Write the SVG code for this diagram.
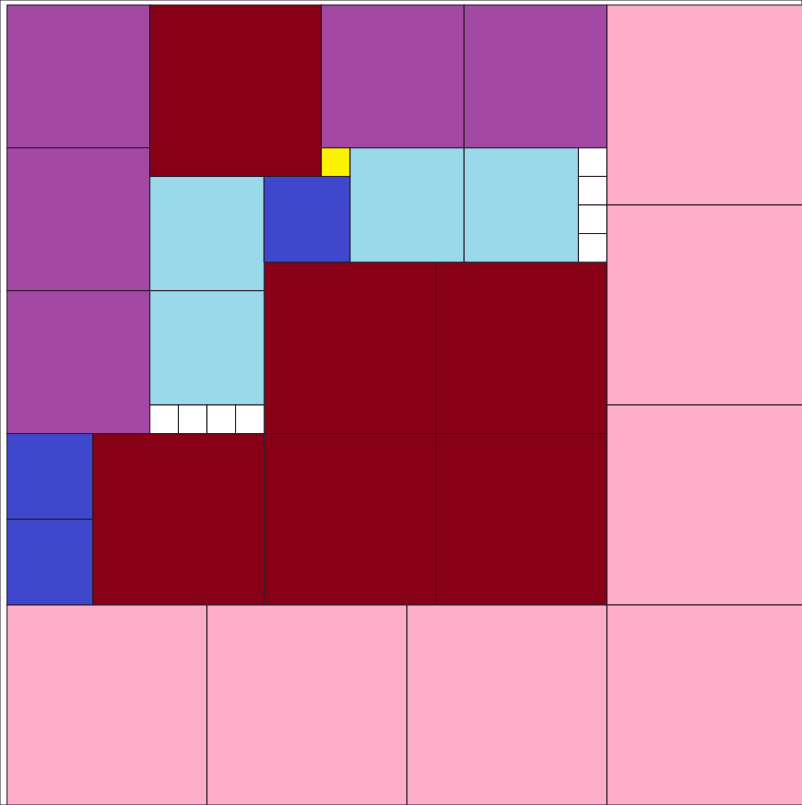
<svg xmlns="http://www.w3.org/2000/svg" width="802" height="805" viewBox="0 0 802 805">
<style>
rect{stroke:#2a1a2a;stroke-width:1}
.pu{fill:#A349A4}.dr{fill:#880015}.lb{fill:#99D9EA}.bl{fill:#3F48CC}.ye{fill:#FFF200}.pk{fill:#FFAEC9}.wh{fill:#FFFFFF}
</style>
<rect x="0" y="0" width="802" height="805" fill="#fff" stroke="none"/>
<g id="purple">
<rect id="p1" class="pu" x="7" y="5" width="142.86" height="142.86"/>
<rect id="p2" class="pu" x="7" y="147.86" width="142.86" height="142.86"/>
<rect id="p3" class="pu" x="7" y="290.71" width="142.86" height="142.86"/>
<rect id="p4" class="pu" x="321.29" y="5" width="142.86" height="142.86"/>
<rect id="p5" class="pu" x="464.14" y="5" width="142.86" height="142.86"/>
</g>
<g id="darkred">
<rect id="r1" class="dr" x="149.86" y="5" width="171.43" height="171.43"/>
<rect id="r2" class="dr" x="264.14" y="262.14" width="171.43" height="171.43"/>
<rect id="r3" class="dr" x="435.57" y="262.14" width="171.43" height="171.43"/>
<rect id="r4" class="dr" x="92.71" y="433.57" width="171.43" height="171.43"/>
<rect id="r5" class="dr" x="264.14" y="433.57" width="171.43" height="171.43"/>
<rect id="r6" class="dr" x="435.57" y="433.57" width="171.43" height="171.43"/>
</g>
<g id="lightblue">
<rect id="l1" class="lb" x="349.86" y="147.86" width="114.29" height="114.29"/>
<rect id="l2" class="lb" x="464.14" y="147.86" width="114.29" height="114.29"/>
<rect id="l3" class="lb" x="149.86" y="176.43" width="114.29" height="114.29"/>
<rect id="l4" class="lb" x="149.86" y="290.71" width="114.29" height="114.29"/>
</g>
<g id="blue">
<rect id="b1" class="bl" x="264.14" y="176.43" width="85.71" height="85.71"/>
<rect id="b2" class="bl" x="7" y="433.57" width="85.71" height="85.71"/>
<rect id="b3" class="bl" x="7" y="519.29" width="85.71" height="85.71"/>
</g>
<g id="yellow">
<rect id="y1" class="ye" x="321.29" y="147.86" width="28.57" height="28.57"/>
</g>
<g id="white">
<rect id="w1" class="wh" x="578.43" y="147.86" width="28.57" height="28.57"/>
<rect id="w2" class="wh" x="578.43" y="176.43" width="28.57" height="28.57"/>
<rect id="w3" class="wh" x="578.43" y="205" width="28.57" height="28.57"/>
<rect id="w4" class="wh" x="578.43" y="233.57" width="28.57" height="28.57"/>
<rect id="w5" class="wh" x="149.86" y="405" width="28.57" height="28.57"/>
<rect id="w6" class="wh" x="178.43" y="405" width="28.57" height="28.57"/>
<rect id="w7" class="wh" x="207" y="405" width="28.57" height="28.57"/>
<rect id="w8" class="wh" x="235.57" y="405" width="28.57" height="28.57"/>
</g>
<g id="pink">
<rect id="k1" class="pk" x="607" y="5" width="200" height="200"/>
<rect id="k2" class="pk" x="607" y="205" width="200" height="200"/>
<rect id="k3" class="pk" x="607" y="405" width="200" height="200"/>
<rect id="k4" class="pk" x="7" y="605" width="200" height="200"/>
<rect id="k5" class="pk" x="207" y="605" width="200" height="200"/>
<rect id="k6" class="pk" x="407" y="605" width="200" height="200"/>
<rect id="k7" class="pk" x="607" y="605" width="200" height="200"/>
</g>
<g id="connectors"/>
</svg>
